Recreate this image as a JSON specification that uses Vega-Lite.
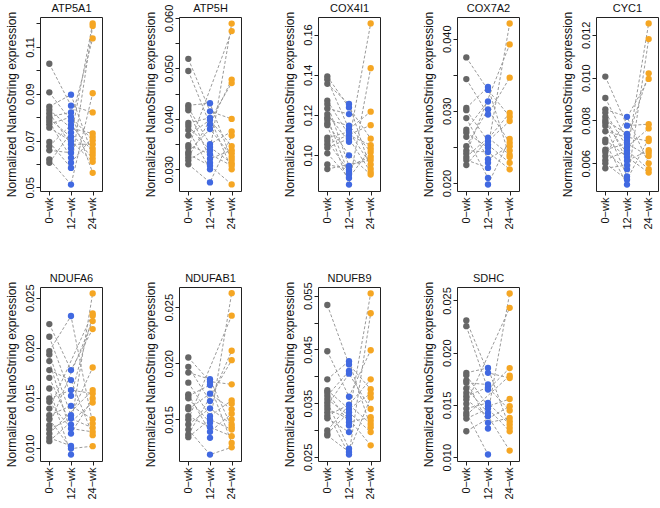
{
"$schema":"https://vega.github.io/schema/vega-lite/v6.json",
"padding":{"left":4,"top":1,"right":0,"bottom":0},
"background":"white",
"bounds":"flush",
"columns":5,
"spacing":{"row":96,"column":77},
"data":{"values":[
{"g":"ATP5A1","t":"0−wk","s":0,"v":0.1028},{"g":"ATP5A1","t":"0−wk","s":1,"v":0.0906},{"g":"ATP5A1","t":"0−wk","s":2,"v":0.0845},{"g":"ATP5A1","t":"0−wk","s":3,"v":0.0831},{"g":"ATP5A1","t":"0−wk","s":4,"v":0.0817},{"g":"ATP5A1","t":"0−wk","s":5,"v":0.0802},{"g":"ATP5A1","t":"0−wk","s":6,"v":0.0792},{"g":"ATP5A1","t":"0−wk","s":7,"v":0.0781},{"g":"ATP5A1","t":"0−wk","s":8,"v":0.0769},{"g":"ATP5A1","t":"0−wk","s":9,"v":0.0755},{"g":"ATP5A1","t":"0−wk","s":10,"v":0.0694},{"g":"ATP5A1","t":"0−wk","s":11,"v":0.0676},{"g":"ATP5A1","t":"0−wk","s":12,"v":0.0658},{"g":"ATP5A1","t":"0−wk","s":13,"v":0.0619},{"g":"ATP5A1","t":"0−wk","s":14,"v":0.0605},
{"g":"ATP5A1","t":"12−wk","s":2,"v":0.0896},{"g":"ATP5A1","t":"12−wk","s":0,"v":0.0849},{"g":"ATP5A1","t":"12−wk","s":5,"v":0.0820},{"g":"ATP5A1","t":"12−wk","s":8,"v":0.0801},{"g":"ATP5A1","t":"12−wk","s":1,"v":0.0784},{"g":"ATP5A1","t":"12−wk","s":11,"v":0.0767},{"g":"ATP5A1","t":"12−wk","s":3,"v":0.0753},{"g":"ATP5A1","t":"12−wk","s":14,"v":0.0734},{"g":"ATP5A1","t":"12−wk","s":6,"v":0.0715},{"g":"ATP5A1","t":"12−wk","s":9,"v":0.0698},{"g":"ATP5A1","t":"12−wk","s":4,"v":0.0684},{"g":"ATP5A1","t":"12−wk","s":16,"v":0.0667},{"g":"ATP5A1","t":"12−wk","s":12,"v":0.0648},{"g":"ATP5A1","t":"12−wk","s":7,"v":0.0626},{"g":"ATP5A1","t":"12−wk","s":15,"v":0.0605},{"g":"ATP5A1","t":"12−wk","s":10,"v":0.0583},{"g":"ATP5A1","t":"12−wk","s":13,"v":0.0512},
{"g":"ATP5A1","t":"24−wk","s":6,"v":0.1200},{"g":"ATP5A1","t":"24−wk","s":10,"v":0.1189},{"g":"ATP5A1","t":"24−wk","s":1,"v":0.1136},{"g":"ATP5A1","t":"24−wk","s":13,"v":0.0902},{"g":"ATP5A1","t":"24−wk","s":0,"v":0.0820},{"g":"ATP5A1","t":"24−wk","s":3,"v":0.0730},{"g":"ATP5A1","t":"24−wk","s":15,"v":0.0715},{"g":"ATP5A1","t":"24−wk","s":8,"v":0.0701},{"g":"ATP5A1","t":"24−wk","s":4,"v":0.0684},{"g":"ATP5A1","t":"24−wk","s":17,"v":0.0665},{"g":"ATP5A1","t":"24−wk","s":11,"v":0.0651},{"g":"ATP5A1","t":"24−wk","s":2,"v":0.0638},{"g":"ATP5A1","t":"24−wk","s":14,"v":0.0623},{"g":"ATP5A1","t":"24−wk","s":9,"v":0.0609},{"g":"ATP5A1","t":"24−wk","s":5,"v":0.0562},

{"g":"ATP5H","t":"0−wk","s":0,"v":0.0519},{"g":"ATP5H","t":"0−wk","s":1,"v":0.0495},{"g":"ATP5H","t":"0−wk","s":2,"v":0.0427},{"g":"ATP5H","t":"0−wk","s":3,"v":0.0422},{"g":"ATP5H","t":"0−wk","s":4,"v":0.0417},{"g":"ATP5H","t":"0−wk","s":5,"v":0.0392},{"g":"ATP5H","t":"0−wk","s":6,"v":0.0386},{"g":"ATP5H","t":"0−wk","s":7,"v":0.0378},{"g":"ATP5H","t":"0−wk","s":8,"v":0.0367},{"g":"ATP5H","t":"0−wk","s":9,"v":0.0348},{"g":"ATP5H","t":"0−wk","s":10,"v":0.0343},{"g":"ATP5H","t":"0−wk","s":11,"v":0.0334},{"g":"ATP5H","t":"0−wk","s":12,"v":0.0330},{"g":"ATP5H","t":"0−wk","s":13,"v":0.0324},{"g":"ATP5H","t":"0−wk","s":14,"v":0.0318},{"g":"ATP5H","t":"0−wk","s":15,"v":0.0310},
{"g":"ATP5H","t":"12−wk","s":2,"v":0.0431},{"g":"ATP5H","t":"12−wk","s":0,"v":0.0415},{"g":"ATP5H","t":"12−wk","s":5,"v":0.0402},{"g":"ATP5H","t":"12−wk","s":8,"v":0.0398},{"g":"ATP5H","t":"12−wk","s":1,"v":0.0389},{"g":"ATP5H","t":"12−wk","s":11,"v":0.0380},{"g":"ATP5H","t":"12−wk","s":3,"v":0.0350},{"g":"ATP5H","t":"12−wk","s":14,"v":0.0344},{"g":"ATP5H","t":"12−wk","s":6,"v":0.0338},{"g":"ATP5H","t":"12−wk","s":9,"v":0.0330},{"g":"ATP5H","t":"12−wk","s":4,"v":0.0321},{"g":"ATP5H","t":"12−wk","s":16,"v":0.0313},{"g":"ATP5H","t":"12−wk","s":12,"v":0.0307},{"g":"ATP5H","t":"12−wk","s":7,"v":0.0300},{"g":"ATP5H","t":"12−wk","s":15,"v":0.0274},
{"g":"ATP5H","t":"24−wk","s":6,"v":0.0589},{"g":"ATP5H","t":"24−wk","s":10,"v":0.0574},{"g":"ATP5H","t":"24−wk","s":1,"v":0.0478},{"g":"ATP5H","t":"24−wk","s":13,"v":0.0471},{"g":"ATP5H","t":"24−wk","s":0,"v":0.0400},{"g":"ATP5H","t":"24−wk","s":3,"v":0.0375},{"g":"ATP5H","t":"24−wk","s":15,"v":0.0367},{"g":"ATP5H","t":"24−wk","s":8,"v":0.0346},{"g":"ATP5H","t":"24−wk","s":4,"v":0.0338},{"g":"ATP5H","t":"24−wk","s":17,"v":0.0332},{"g":"ATP5H","t":"24−wk","s":11,"v":0.0325},{"g":"ATP5H","t":"24−wk","s":2,"v":0.0319},{"g":"ATP5H","t":"24−wk","s":14,"v":0.0312},{"g":"ATP5H","t":"24−wk","s":9,"v":0.0307},{"g":"ATP5H","t":"24−wk","s":5,"v":0.0300},{"g":"ATP5H","t":"24−wk","s":12,"v":0.0270},

{"g":"COX4I1","t":"0−wk","s":0,"v":0.1392},{"g":"COX4I1","t":"0−wk","s":1,"v":0.1377},{"g":"COX4I1","t":"0−wk","s":2,"v":0.1355},{"g":"COX4I1","t":"0−wk","s":3,"v":0.1272},{"g":"COX4I1","t":"0−wk","s":4,"v":0.1255},{"g":"COX4I1","t":"0−wk","s":5,"v":0.1233},{"g":"COX4I1","t":"0−wk","s":6,"v":0.1205},{"g":"COX4I1","t":"0−wk","s":7,"v":0.1188},{"g":"COX4I1","t":"0−wk","s":8,"v":0.1177},{"g":"COX4I1","t":"0−wk","s":9,"v":0.1160},{"g":"COX4I1","t":"0−wk","s":10,"v":0.1150},{"g":"COX4I1","t":"0−wk","s":11,"v":0.1088},{"g":"COX4I1","t":"0−wk","s":12,"v":0.1072},{"g":"COX4I1","t":"0−wk","s":13,"v":0.1055},{"g":"COX4I1","t":"0−wk","s":14,"v":0.1038},{"g":"COX4I1","t":"0−wk","s":15,"v":0.1010},{"g":"COX4I1","t":"0−wk","s":16,"v":0.0955},{"g":"COX4I1","t":"0−wk","s":17,"v":0.0932},
{"g":"COX4I1","t":"12−wk","s":2,"v":0.1255},{"g":"COX4I1","t":"12−wk","s":0,"v":0.1238},{"g":"COX4I1","t":"12−wk","s":5,"v":0.1205},{"g":"COX4I1","t":"12−wk","s":8,"v":0.1147},{"g":"COX4I1","t":"12−wk","s":1,"v":0.1130},{"g":"COX4I1","t":"12−wk","s":11,"v":0.1117},{"g":"COX4I1","t":"12−wk","s":3,"v":0.1100},{"g":"COX4I1","t":"12−wk","s":14,"v":0.1083},{"g":"COX4I1","t":"12−wk","s":6,"v":0.1067},{"g":"COX4I1","t":"12−wk","s":9,"v":0.1000},{"g":"COX4I1","t":"12−wk","s":4,"v":0.0947},{"g":"COX4I1","t":"12−wk","s":16,"v":0.0930},{"g":"COX4I1","t":"12−wk","s":12,"v":0.0917},{"g":"COX4I1","t":"12−wk","s":7,"v":0.0905},{"g":"COX4I1","t":"12−wk","s":15,"v":0.0888},{"g":"COX4I1","t":"12−wk","s":10,"v":0.0855},
{"g":"COX4I1","t":"24−wk","s":6,"v":0.1655},{"g":"COX4I1","t":"24−wk","s":10,"v":0.1433},{"g":"COX4I1","t":"24−wk","s":1,"v":0.1217},{"g":"COX4I1","t":"24−wk","s":13,"v":0.1150},{"g":"COX4I1","t":"24−wk","s":0,"v":0.1083},{"g":"COX4I1","t":"24−wk","s":3,"v":0.1050},{"g":"COX4I1","t":"24−wk","s":15,"v":0.1033},{"g":"COX4I1","t":"24−wk","s":8,"v":0.1017},{"g":"COX4I1","t":"24−wk","s":4,"v":0.0993},{"g":"COX4I1","t":"24−wk","s":17,"v":0.0977},{"g":"COX4I1","t":"24−wk","s":11,"v":0.0955},{"g":"COX4I1","t":"24−wk","s":2,"v":0.0933},{"g":"COX4I1","t":"24−wk","s":14,"v":0.0917},{"g":"COX4I1","t":"24−wk","s":9,"v":0.0905},

{"g":"COX7A2","t":"0−wk","s":0,"v":0.0374},{"g":"COX7A2","t":"0−wk","s":1,"v":0.0344},{"g":"COX7A2","t":"0−wk","s":2,"v":0.0304},{"g":"COX7A2","t":"0−wk","s":3,"v":0.0301},{"g":"COX7A2","t":"0−wk","s":4,"v":0.0290},{"g":"COX7A2","t":"0−wk","s":5,"v":0.0274},{"g":"COX7A2","t":"0−wk","s":6,"v":0.0270},{"g":"COX7A2","t":"0−wk","s":7,"v":0.0264},{"g":"COX7A2","t":"0−wk","s":8,"v":0.0251},{"g":"COX7A2","t":"0−wk","s":9,"v":0.0245},{"g":"COX7A2","t":"0−wk","s":10,"v":0.0241},{"g":"COX7A2","t":"0−wk","s":11,"v":0.0236},{"g":"COX7A2","t":"0−wk","s":12,"v":0.0232},{"g":"COX7A2","t":"0−wk","s":13,"v":0.0225},
{"g":"COX7A2","t":"12−wk","s":2,"v":0.0333},{"g":"COX7A2","t":"12−wk","s":0,"v":0.0329},{"g":"COX7A2","t":"12−wk","s":5,"v":0.0313},{"g":"COX7A2","t":"12−wk","s":8,"v":0.0302},{"g":"COX7A2","t":"12−wk","s":1,"v":0.0295},{"g":"COX7A2","t":"12−wk","s":11,"v":0.0263},{"g":"COX7A2","t":"12−wk","s":3,"v":0.0258},{"g":"COX7A2","t":"12−wk","s":14,"v":0.0253},{"g":"COX7A2","t":"12−wk","s":6,"v":0.0249},{"g":"COX7A2","t":"12−wk","s":9,"v":0.0243},{"g":"COX7A2","t":"12−wk","s":4,"v":0.0233},{"g":"COX7A2","t":"12−wk","s":16,"v":0.0228},{"g":"COX7A2","t":"12−wk","s":12,"v":0.0221},{"g":"COX7A2","t":"12−wk","s":7,"v":0.0207},{"g":"COX7A2","t":"12−wk","s":15,"v":0.0198},
{"g":"COX7A2","t":"24−wk","s":6,"v":0.0421},{"g":"COX7A2","t":"24−wk","s":10,"v":0.0392},{"g":"COX7A2","t":"24−wk","s":1,"v":0.0346},{"g":"COX7A2","t":"24−wk","s":13,"v":0.0297},{"g":"COX7A2","t":"24−wk","s":0,"v":0.0292},{"g":"COX7A2","t":"24−wk","s":3,"v":0.0286},{"g":"COX7A2","t":"24−wk","s":15,"v":0.0261},{"g":"COX7A2","t":"24−wk","s":8,"v":0.0256},{"g":"COX7A2","t":"24−wk","s":4,"v":0.0251},{"g":"COX7A2","t":"24−wk","s":17,"v":0.0245},{"g":"COX7A2","t":"24−wk","s":11,"v":0.0239},{"g":"COX7A2","t":"24−wk","s":2,"v":0.0236},{"g":"COX7A2","t":"24−wk","s":14,"v":0.0228},{"g":"COX7A2","t":"24−wk","s":9,"v":0.0219},

{"g":"CYC1","t":"0−wk","s":0,"v":0.01005},{"g":"CYC1","t":"0−wk","s":1,"v":0.00905},{"g":"CYC1","t":"0−wk","s":2,"v":0.00852},{"g":"CYC1","t":"0−wk","s":3,"v":0.00837},{"g":"CYC1","t":"0−wk","s":4,"v":0.00817},{"g":"CYC1","t":"0−wk","s":5,"v":0.00802},{"g":"CYC1","t":"0−wk","s":6,"v":0.00791},{"g":"CYC1","t":"0−wk","s":7,"v":0.00776},{"g":"CYC1","t":"0−wk","s":8,"v":0.0075},{"g":"CYC1","t":"0−wk","s":9,"v":0.0071},{"g":"CYC1","t":"0−wk","s":10,"v":0.00699},{"g":"CYC1","t":"0−wk","s":11,"v":0.00664},{"g":"CYC1","t":"0−wk","s":12,"v":0.00653},{"g":"CYC1","t":"0−wk","s":13,"v":0.00634},{"g":"CYC1","t":"0−wk","s":14,"v":0.00615},{"g":"CYC1","t":"0−wk","s":15,"v":0.006},{"g":"CYC1","t":"0−wk","s":16,"v":0.00577},
{"g":"CYC1","t":"12−wk","s":2,"v":0.00817},{"g":"CYC1","t":"12−wk","s":0,"v":0.00776},{"g":"CYC1","t":"12−wk","s":5,"v":0.00737},{"g":"CYC1","t":"12−wk","s":8,"v":0.00722},{"g":"CYC1","t":"12−wk","s":1,"v":0.00707},{"g":"CYC1","t":"12−wk","s":11,"v":0.00692},{"g":"CYC1","t":"12−wk","s":3,"v":0.00676},{"g":"CYC1","t":"12−wk","s":14,"v":0.00661},{"g":"CYC1","t":"12−wk","s":6,"v":0.00646},{"g":"CYC1","t":"12−wk","s":9,"v":0.0063},{"g":"CYC1","t":"12−wk","s":4,"v":0.00612},{"g":"CYC1","t":"12−wk","s":16,"v":0.00592},{"g":"CYC1","t":"12−wk","s":12,"v":0.00573},{"g":"CYC1","t":"12−wk","s":7,"v":0.00539},{"g":"CYC1","t":"12−wk","s":15,"v":0.00524},{"g":"CYC1","t":"12−wk","s":10,"v":0.00501},
{"g":"CYC1","t":"24−wk","s":6,"v":0.01253},{"g":"CYC1","t":"24−wk","s":10,"v":0.0118},{"g":"CYC1","t":"24−wk","s":1,"v":0.0102},{"g":"CYC1","t":"24−wk","s":13,"v":0.00994},{"g":"CYC1","t":"24−wk","s":0,"v":0.00783},{"g":"CYC1","t":"24−wk","s":3,"v":0.00763},{"g":"CYC1","t":"24−wk","s":15,"v":0.00715},{"g":"CYC1","t":"24−wk","s":8,"v":0.00704},{"g":"CYC1","t":"24−wk","s":4,"v":0.00661},{"g":"CYC1","t":"24−wk","s":17,"v":0.00649},{"g":"CYC1","t":"24−wk","s":11,"v":0.00634},{"g":"CYC1","t":"24−wk","s":2,"v":0.006},{"g":"CYC1","t":"24−wk","s":14,"v":0.00573},{"g":"CYC1","t":"24−wk","s":9,"v":0.00557},

{"g":"NDUFA6","t":"0−wk","s":0,"v":0.02237},{"g":"NDUFA6","t":"0−wk","s":1,"v":0.0211},{"g":"NDUFA6","t":"0−wk","s":2,"v":0.01967},{"g":"NDUFA6","t":"0−wk","s":3,"v":0.01933},{"g":"NDUFA6","t":"0−wk","s":4,"v":0.01867},{"g":"NDUFA6","t":"0−wk","s":5,"v":0.01777},{"g":"NDUFA6","t":"0−wk","s":6,"v":0.017},{"g":"NDUFA6","t":"0−wk","s":7,"v":0.01593},{"g":"NDUFA6","t":"0−wk","s":8,"v":0.01493},{"g":"NDUFA6","t":"0−wk","s":9,"v":0.0146},{"g":"NDUFA6","t":"0−wk","s":10,"v":0.01393},{"g":"NDUFA6","t":"0−wk","s":11,"v":0.01327},{"g":"NDUFA6","t":"0−wk","s":12,"v":0.01287},{"g":"NDUFA6","t":"0−wk","s":13,"v":0.01227},{"g":"NDUFA6","t":"0−wk","s":14,"v":0.01187},{"g":"NDUFA6","t":"0−wk","s":15,"v":0.01143},{"g":"NDUFA6","t":"0−wk","s":16,"v":0.011},{"g":"NDUFA6","t":"0−wk","s":17,"v":0.01067},
{"g":"NDUFA6","t":"12−wk","s":2,"v":0.02317},{"g":"NDUFA6","t":"12−wk","s":0,"v":0.01777},{"g":"NDUFA6","t":"12−wk","s":5,"v":0.01677},{"g":"NDUFA6","t":"12−wk","s":8,"v":0.01577},{"g":"NDUFA6","t":"12−wk","s":1,"v":0.0152},{"g":"NDUFA6","t":"12−wk","s":11,"v":0.0142},{"g":"NDUFA6","t":"12−wk","s":3,"v":0.01327},{"g":"NDUFA6","t":"12−wk","s":14,"v":0.01293},{"g":"NDUFA6","t":"12−wk","s":6,"v":0.01233},{"g":"NDUFA6","t":"12−wk","s":9,"v":0.01193},{"g":"NDUFA6","t":"12−wk","s":4,"v":0.01143},{"g":"NDUFA6","t":"12−wk","s":16,"v":0.0102},{"g":"NDUFA6","t":"12−wk","s":12,"v":0.00993},{"g":"NDUFA6","t":"12−wk","s":7,"v":0.00933},
{"g":"NDUFA6","t":"24−wk","s":6,"v":0.02543},{"g":"NDUFA6","t":"24−wk","s":10,"v":0.02343},{"g":"NDUFA6","t":"24−wk","s":1,"v":0.0232},{"g":"NDUFA6","t":"24−wk","s":13,"v":0.02267},{"g":"NDUFA6","t":"24−wk","s":0,"v":0.02187},{"g":"NDUFA6","t":"24−wk","s":3,"v":0.01803},{"g":"NDUFA6","t":"24−wk","s":15,"v":0.01577},{"g":"NDUFA6","t":"24−wk","s":8,"v":0.01543},{"g":"NDUFA6","t":"24−wk","s":4,"v":0.01493},{"g":"NDUFA6","t":"24−wk","s":17,"v":0.01453},{"g":"NDUFA6","t":"24−wk","s":11,"v":0.01287},{"g":"NDUFA6","t":"24−wk","s":2,"v":0.01243},{"g":"NDUFA6","t":"24−wk","s":14,"v":0.012},{"g":"NDUFA6","t":"24−wk","s":9,"v":0.0116},{"g":"NDUFA6","t":"24−wk","s":5,"v":0.01127},{"g":"NDUFA6","t":"24−wk","s":12,"v":0.01017},

{"g":"NDUFAB1","t":"0−wk","s":0,"v":0.02052},{"g":"NDUFAB1","t":"0−wk","s":1,"v":0.01969},{"g":"NDUFAB1","t":"0−wk","s":2,"v":0.01918},{"g":"NDUFAB1","t":"0−wk","s":3,"v":0.01828},{"g":"NDUFAB1","t":"0−wk","s":4,"v":0.01724},{"g":"NDUFAB1","t":"0−wk","s":5,"v":0.01709},{"g":"NDUFAB1","t":"0−wk","s":6,"v":0.01688},{"g":"NDUFAB1","t":"0−wk","s":7,"v":0.0161},{"g":"NDUFAB1","t":"0−wk","s":8,"v":0.0159},{"g":"NDUFAB1","t":"0−wk","s":9,"v":0.0153},{"g":"NDUFAB1","t":"0−wk","s":10,"v":0.015},{"g":"NDUFAB1","t":"0−wk","s":11,"v":0.01455},{"g":"NDUFAB1","t":"0−wk","s":12,"v":0.0141},{"g":"NDUFAB1","t":"0−wk","s":13,"v":0.01366},{"g":"NDUFAB1","t":"0−wk","s":14,"v":0.01342},
{"g":"NDUFAB1","t":"12−wk","s":2,"v":0.01858},{"g":"NDUFAB1","t":"12−wk","s":0,"v":0.01837},{"g":"NDUFAB1","t":"12−wk","s":5,"v":0.01807},{"g":"NDUFAB1","t":"12−wk","s":8,"v":0.0173},{"g":"NDUFAB1","t":"12−wk","s":1,"v":0.01664},{"g":"NDUFAB1","t":"12−wk","s":11,"v":0.01599},{"g":"NDUFAB1","t":"12−wk","s":3,"v":0.0153},{"g":"NDUFAB1","t":"12−wk","s":14,"v":0.015},{"g":"NDUFAB1","t":"12−wk","s":6,"v":0.0147},{"g":"NDUFAB1","t":"12−wk","s":9,"v":0.01431},{"g":"NDUFAB1","t":"12−wk","s":4,"v":0.0139},{"g":"NDUFAB1","t":"12−wk","s":16,"v":0.01336},{"g":"NDUFAB1","t":"12−wk","s":12,"v":0.01187},
{"g":"NDUFAB1","t":"24−wk","s":6,"v":0.02625},{"g":"NDUFAB1","t":"24−wk","s":10,"v":0.02425},{"g":"NDUFAB1","t":"24−wk","s":1,"v":0.02112},{"g":"NDUFAB1","t":"24−wk","s":13,"v":0.02028},{"g":"NDUFAB1","t":"24−wk","s":0,"v":0.01813},{"g":"NDUFAB1","t":"24−wk","s":3,"v":0.0167},{"g":"NDUFAB1","t":"24−wk","s":15,"v":0.0164},{"g":"NDUFAB1","t":"24−wk","s":8,"v":0.0159},{"g":"NDUFAB1","t":"24−wk","s":4,"v":0.01551},{"g":"NDUFAB1","t":"24−wk","s":17,"v":0.015},{"g":"NDUFAB1","t":"24−wk","s":11,"v":0.01455},{"g":"NDUFAB1","t":"24−wk","s":2,"v":0.01431},{"g":"NDUFAB1","t":"24−wk","s":14,"v":0.0141},{"g":"NDUFAB1","t":"24−wk","s":9,"v":0.01351},{"g":"NDUFAB1","t":"24−wk","s":5,"v":0.01291},{"g":"NDUFAB1","t":"24−wk","s":12,"v":0.01252},

{"g":"NDUFB9","t":"0−wk","s":0,"v":0.05328},{"g":"NDUFB9","t":"0−wk","s":1,"v":0.04467},{"g":"NDUFB9","t":"0−wk","s":2,"v":0.03945},{"g":"NDUFB9","t":"0−wk","s":3,"v":0.03742},{"g":"NDUFB9","t":"0−wk","s":4,"v":0.03699},{"g":"NDUFB9","t":"0−wk","s":5,"v":0.03638},{"g":"NDUFB9","t":"0−wk","s":6,"v":0.03576},{"g":"NDUFB9","t":"0−wk","s":7,"v":0.03515},{"g":"NDUFB9","t":"0−wk","s":8,"v":0.03453},{"g":"NDUFB9","t":"0−wk","s":9,"v":0.03392},{"g":"NDUFB9","t":"0−wk","s":10,"v":0.0333},{"g":"NDUFB9","t":"0−wk","s":11,"v":0.03269},{"g":"NDUFB9","t":"0−wk","s":12,"v":0.0322},{"g":"NDUFB9","t":"0−wk","s":13,"v":0.02992},{"g":"NDUFB9","t":"0−wk","s":14,"v":0.02931},{"g":"NDUFB9","t":"0−wk","s":15,"v":0.029},
{"g":"NDUFB9","t":"12−wk","s":2,"v":0.04283},{"g":"NDUFB9","t":"12−wk","s":0,"v":0.04222},{"g":"NDUFB9","t":"12−wk","s":5,"v":0.04099},{"g":"NDUFB9","t":"12−wk","s":8,"v":0.0405},{"g":"NDUFB9","t":"12−wk","s":1,"v":0.0362},{"g":"NDUFB9","t":"12−wk","s":11,"v":0.03472},{"g":"NDUFB9","t":"12−wk","s":3,"v":0.03392},{"g":"NDUFB9","t":"12−wk","s":14,"v":0.0333},{"g":"NDUFB9","t":"12−wk","s":6,"v":0.03269},{"g":"NDUFB9","t":"12−wk","s":9,"v":0.03207},{"g":"NDUFB9","t":"12−wk","s":4,"v":0.03146},{"g":"NDUFB9","t":"12−wk","s":16,"v":0.03085},{"g":"NDUFB9","t":"12−wk","s":12,"v":0.02962},{"g":"NDUFB9","t":"12−wk","s":7,"v":0.02654},{"g":"NDUFB9","t":"12−wk","s":15,"v":0.02593},{"g":"NDUFB9","t":"12−wk","s":10,"v":0.02544},
{"g":"NDUFB9","t":"24−wk","s":6,"v":0.05543},{"g":"NDUFB9","t":"24−wk","s":10,"v":0.05174},{"g":"NDUFB9","t":"24−wk","s":1,"v":0.04486},{"g":"NDUFB9","t":"24−wk","s":13,"v":0.03945},{"g":"NDUFB9","t":"24−wk","s":0,"v":0.03761},{"g":"NDUFB9","t":"24−wk","s":3,"v":0.03681},{"g":"NDUFB9","t":"24−wk","s":15,"v":0.03607},{"g":"NDUFB9","t":"24−wk","s":8,"v":0.03392},{"g":"NDUFB9","t":"24−wk","s":4,"v":0.03238},{"g":"NDUFB9","t":"24−wk","s":17,"v":0.03177},{"g":"NDUFB9","t":"24−wk","s":11,"v":0.03115},{"g":"NDUFB9","t":"24−wk","s":2,"v":0.03054},{"g":"NDUFB9","t":"24−wk","s":14,"v":0.02962},{"g":"NDUFB9","t":"24−wk","s":9,"v":0.02716},

{"g":"SDHC","t":"0−wk","s":0,"v":0.02309},{"g":"SDHC","t":"0−wk","s":1,"v":0.02254},{"g":"SDHC","t":"0−wk","s":2,"v":0.01808},{"g":"SDHC","t":"0−wk","s":3,"v":0.01785},{"g":"SDHC","t":"0−wk","s":4,"v":0.01734},{"g":"SDHC","t":"0−wk","s":5,"v":0.01712},{"g":"SDHC","t":"0−wk","s":6,"v":0.01658},{"g":"SDHC","t":"0−wk","s":7,"v":0.01616},{"g":"SDHC","t":"0−wk","s":8,"v":0.01584},{"g":"SDHC","t":"0−wk","s":9,"v":0.01552},{"g":"SDHC","t":"0−wk","s":10,"v":0.01511},{"g":"SDHC","t":"0−wk","s":11,"v":0.01466},{"g":"SDHC","t":"0−wk","s":12,"v":0.01425},{"g":"SDHC","t":"0−wk","s":13,"v":0.01402},{"g":"SDHC","t":"0−wk","s":14,"v":0.0137},{"g":"SDHC","t":"0−wk","s":15,"v":0.01249},
{"g":"SDHC","t":"12−wk","s":2,"v":0.01855},{"g":"SDHC","t":"12−wk","s":0,"v":0.01808},{"g":"SDHC","t":"12−wk","s":5,"v":0.01696},{"g":"SDHC","t":"12−wk","s":8,"v":0.0167},{"g":"SDHC","t":"12−wk","s":1,"v":0.01648},{"g":"SDHC","t":"12−wk","s":11,"v":0.0152},{"g":"SDHC","t":"12−wk","s":3,"v":0.01488},{"g":"SDHC","t":"12−wk","s":14,"v":0.01466},{"g":"SDHC","t":"12−wk","s":6,"v":0.01425},{"g":"SDHC","t":"12−wk","s":9,"v":0.01393},{"g":"SDHC","t":"12−wk","s":4,"v":0.01329},{"g":"SDHC","t":"12−wk","s":16,"v":0.01275},{"g":"SDHC","t":"12−wk","s":12,"v":0.01026},
{"g":"SDHC","t":"24−wk","s":6,"v":0.02567},{"g":"SDHC","t":"24−wk","s":10,"v":0.0243},{"g":"SDHC","t":"24−wk","s":1,"v":0.01853},{"g":"SDHC","t":"24−wk","s":13,"v":0.0178},{"g":"SDHC","t":"24−wk","s":0,"v":0.01758},{"g":"SDHC","t":"24−wk","s":3,"v":0.01557},{"g":"SDHC","t":"24−wk","s":15,"v":0.01488},{"g":"SDHC","t":"24−wk","s":8,"v":0.01447},{"g":"SDHC","t":"24−wk","s":4,"v":0.01377},{"g":"SDHC","t":"24−wk","s":17,"v":0.01345},{"g":"SDHC","t":"24−wk","s":11,"v":0.01313},{"g":"SDHC","t":"24−wk","s":2,"v":0.01281},{"g":"SDHC","t":"24−wk","s":14,"v":0.01249},{"g":"SDHC","t":"24−wk","s":9,"v":0.01064}
]},
"concat":[
{"width":62,"height":174,"transform":[{"filter":"datum.g == 'ATP5A1'"}],"resolve":{"axis":{"x":"independent"}},
 "encoding":{"y":{"field":"v","type":"quantitative","title":"Normalized NanoString expression","scale":{"domain":[0.04845,0.12275],"zero":false,"nice":false},"axis":{"values":[0.05,0.06,0.07,0.08,0.09,0.1,0.11,0.12],"format":".2f","labelExpr":"round(datum.value*100)%2==1 ? datum.label : ''"}}},
 "layer":[{"mark":{"type":"line","color":"#9a9a9a","strokeDash":[3,2],"strokeWidth":1},"encoding":{"x":{"field":"t","type":"nominal","scale":{"padding":0.43},"axis":{"orient":"top","labels":false,"ticks":false,"domain":false,"title":"ATP5A1"}},"detail":{"field":"s","type":"nominal"}}},
  {"mark":{"type":"circle","size":40,"opacity":1},"encoding":{"x":{"field":"t","type":"nominal","title":null,"scale":{"padding":0.43}},"color":{"field":"t","type":"nominal","scale":{"domain":["0−wk","12−wk","24−wk"],"range":["#666666","#4169E1","#F5A623"]},"legend":null}}}]},
{"width":62,"height":174,"transform":[{"filter":"datum.g == 'ATP5H'"}],"resolve":{"axis":{"x":"independent"}},
 "encoding":{"y":{"field":"v","type":"quantitative","title":"Normalized NanoString expression","scale":{"domain":[0.0257,0.0602],"zero":false,"nice":false},"axis":{"values":[0.03,0.035,0.04,0.045,0.05,0.055,0.06],"format":".3f","labelExpr":"round(datum.value*1000)%10==0 ? datum.label : ''"}}},
 "layer":[{"mark":{"type":"line","color":"#9a9a9a","strokeDash":[3,2],"strokeWidth":1},"encoding":{"x":{"field":"t","type":"nominal","scale":{"padding":0.43},"axis":{"orient":"top","labels":false,"ticks":false,"domain":false,"title":"ATP5H"}},"detail":{"field":"s","type":"nominal"}}},
  {"mark":{"type":"circle","size":40,"opacity":1},"encoding":{"x":{"field":"t","type":"nominal","title":null,"scale":{"padding":0.43}},"color":{"field":"t","type":"nominal","scale":{"domain":["0−wk","12−wk","24−wk"],"range":["#666666","#4169E1","#F5A623"]},"legend":null}}}]},
{"width":62,"height":174,"transform":[{"filter":"datum.g == 'COX4I1'"}],"resolve":{"axis":{"x":"independent"}},
 "encoding":{"y":{"field":"v","type":"quantitative","title":"Normalized NanoString expression","scale":{"domain":[0.0823,0.1687],"zero":false,"nice":false},"axis":{"values":[0.1,0.12,0.14,0.16],"format":".2f"}}},
 "layer":[{"mark":{"type":"line","color":"#9a9a9a","strokeDash":[3,2],"strokeWidth":1},"encoding":{"x":{"field":"t","type":"nominal","scale":{"padding":0.43},"axis":{"orient":"top","labels":false,"ticks":false,"domain":false,"title":"COX4I1"}},"detail":{"field":"s","type":"nominal"}}},
  {"mark":{"type":"circle","size":40,"opacity":1},"encoding":{"x":{"field":"t","type":"nominal","title":null,"scale":{"padding":0.43}},"color":{"field":"t","type":"nominal","scale":{"domain":["0−wk","12−wk","24−wk"],"range":["#666666","#4169E1","#F5A623"]},"legend":null}}}]},
{"width":62,"height":174,"transform":[{"filter":"datum.g == 'COX7A2'"}],"resolve":{"axis":{"x":"independent"}},
 "encoding":{"y":{"field":"v","type":"quantitative","title":"Normalized NanoString expression","scale":{"domain":[0.0189,0.043],"zero":false,"nice":false},"axis":{"values":[0.02,0.025,0.03,0.035,0.04],"format":".3f","labelExpr":"round(datum.value*1000)%10==0 ? datum.label : ''"}}},
 "layer":[{"mark":{"type":"line","color":"#9a9a9a","strokeDash":[3,2],"strokeWidth":1},"encoding":{"x":{"field":"t","type":"nominal","scale":{"padding":0.43},"axis":{"orient":"top","labels":false,"ticks":false,"domain":false,"title":"COX7A2"}},"detail":{"field":"s","type":"nominal"}}},
  {"mark":{"type":"circle","size":40,"opacity":1},"encoding":{"x":{"field":"t","type":"nominal","title":null,"scale":{"padding":0.43}},"color":{"field":"t","type":"nominal","scale":{"domain":["0−wk","12−wk","24−wk"],"range":["#666666","#4169E1","#F5A623"]},"legend":null}}}]},
{"width":62,"height":174,"transform":[{"filter":"datum.g == 'CYC1'"}],"resolve":{"axis":{"x":"independent"}},
 "encoding":{"y":{"field":"v","type":"quantitative","title":"Normalized NanoString expression","scale":{"domain":[0.00471,0.01283],"zero":false,"nice":false},"axis":{"values":[0.006,0.008,0.01,0.012],"format":".3f"}}},
 "layer":[{"mark":{"type":"line","color":"#9a9a9a","strokeDash":[3,2],"strokeWidth":1},"encoding":{"x":{"field":"t","type":"nominal","scale":{"padding":0.43},"axis":{"orient":"top","labels":false,"ticks":false,"domain":false,"title":"CYC1"}},"detail":{"field":"s","type":"nominal"}}},
  {"mark":{"type":"circle","size":40,"opacity":1},"encoding":{"x":{"field":"t","type":"nominal","title":null,"scale":{"padding":0.43}},"color":{"field":"t","type":"nominal","scale":{"domain":["0−wk","12−wk","24−wk"],"range":["#666666","#4169E1","#F5A623"]},"legend":null}}}]},
{"width":62,"height":174,"transform":[{"filter":"datum.g == 'NDUFA6'"}],"resolve":{"axis":{"x":"independent"}},
 "encoding":{"y":{"field":"v","type":"quantitative","title":"Normalized NanoString expression","scale":{"domain":[0.00869,0.02607],"zero":false,"nice":false},"axis":{"values":[0.01,0.015,0.02,0.025],"format":".3f"}}},
 "layer":[{"mark":{"type":"line","color":"#9a9a9a","strokeDash":[3,2],"strokeWidth":1},"encoding":{"x":{"field":"t","type":"nominal","scale":{"padding":0.43},"axis":{"orient":"top","labels":false,"ticks":false,"domain":false,"title":"NDUFA6"}},"detail":{"field":"s","type":"nominal"}}},
  {"mark":{"type":"circle","size":40,"opacity":1},"encoding":{"x":{"field":"t","type":"nominal","title":null,"scale":{"padding":0.43}},"color":{"field":"t","type":"nominal","scale":{"domain":["0−wk","12−wk","24−wk"],"range":["#666666","#4169E1","#F5A623"]},"legend":null}}}]},
{"width":62,"height":174,"transform":[{"filter":"datum.g == 'NDUFAB1'"}],"resolve":{"axis":{"x":"independent"}},
 "encoding":{"y":{"field":"v","type":"quantitative","title":"Normalized NanoString expression","scale":{"domain":[0.0113,0.0268],"zero":false,"nice":false},"axis":{"values":[0.015,0.02,0.025],"format":".3f"}}},
 "layer":[{"mark":{"type":"line","color":"#9a9a9a","strokeDash":[3,2],"strokeWidth":1},"encoding":{"x":{"field":"t","type":"nominal","scale":{"padding":0.43},"axis":{"orient":"top","labels":false,"ticks":false,"domain":false,"title":"NDUFAB1"}},"detail":{"field":"s","type":"nominal"}}},
  {"mark":{"type":"circle","size":40,"opacity":1},"encoding":{"x":{"field":"t","type":"nominal","title":null,"scale":{"padding":0.43}},"color":{"field":"t","type":"nominal","scale":{"domain":["0−wk","12−wk","24−wk"],"range":["#666666","#4169E1","#F5A623"]},"legend":null}}}]},
{"width":62,"height":174,"transform":[{"filter":"datum.g == 'NDUFB9'"}],"resolve":{"axis":{"x":"independent"}},
 "encoding":{"y":{"field":"v","type":"quantitative","title":"Normalized NanoString expression","scale":{"domain":[0.02424,0.05663],"zero":false,"nice":false},"axis":{"values":[0.025,0.03,0.035,0.04,0.045,0.05,0.055],"format":".3f","labelExpr":"round(datum.value*1000)%10==5 ? datum.label : ''"}}},
 "layer":[{"mark":{"type":"line","color":"#9a9a9a","strokeDash":[3,2],"strokeWidth":1},"encoding":{"x":{"field":"t","type":"nominal","scale":{"padding":0.43},"axis":{"orient":"top","labels":false,"ticks":false,"domain":false,"title":"NDUFB9"}},"detail":{"field":"s","type":"nominal"}}},
  {"mark":{"type":"circle","size":40,"opacity":1},"encoding":{"x":{"field":"t","type":"nominal","title":null,"scale":{"padding":0.43}},"color":{"field":"t","type":"nominal","scale":{"domain":["0−wk","12−wk","24−wk"],"range":["#666666","#4169E1","#F5A623"]},"legend":null}}}]},
{"width":62,"height":174,"transform":[{"filter":"datum.g == 'SDHC'"}],"resolve":{"axis":{"x":"independent"}},
 "encoding":{"y":{"field":"v","type":"quantitative","title":"Normalized NanoString expression","scale":{"domain":[0.00964,0.02629],"zero":false,"nice":false},"axis":{"values":[0.01,0.015,0.02,0.025],"format":".3f"}}},
 "layer":[{"mark":{"type":"line","color":"#9a9a9a","strokeDash":[3,2],"strokeWidth":1},"encoding":{"x":{"field":"t","type":"nominal","scale":{"padding":0.43},"axis":{"orient":"top","labels":false,"ticks":false,"domain":false,"title":"SDHC"}},"detail":{"field":"s","type":"nominal"}}},
  {"mark":{"type":"circle","size":40,"opacity":1},"encoding":{"x":{"field":"t","type":"nominal","title":null,"scale":{"padding":0.43}},"color":{"field":"t","type":"nominal","scale":{"domain":["0−wk","12−wk","24−wk"],"range":["#666666","#4169E1","#F5A623"]},"legend":null}}}]}
],
"config":{
 "font":"Liberation Sans",
 "view":{"stroke":"#222222","strokeWidth":1},
 "axis":{"domain":false,"grid":false,"tickColor":"#222222","tickSize":4,"labelColor":"#111111","labelFont":"Liberation Sans","labelFontSize":11,"titleFont":"Liberation Sans","titleFontSize":12,"titleFontWeight":"normal","titleColor":"#111111","labelOverlap":false},
 "axisX":{"labelAngle":270,"labelPadding":2},
 "axisTop":{"titleFontSize":11,"titlePadding":4},
 "axisY":{"labelAngle":270,"labelPadding":1,"titlePadding":6}
}
}
